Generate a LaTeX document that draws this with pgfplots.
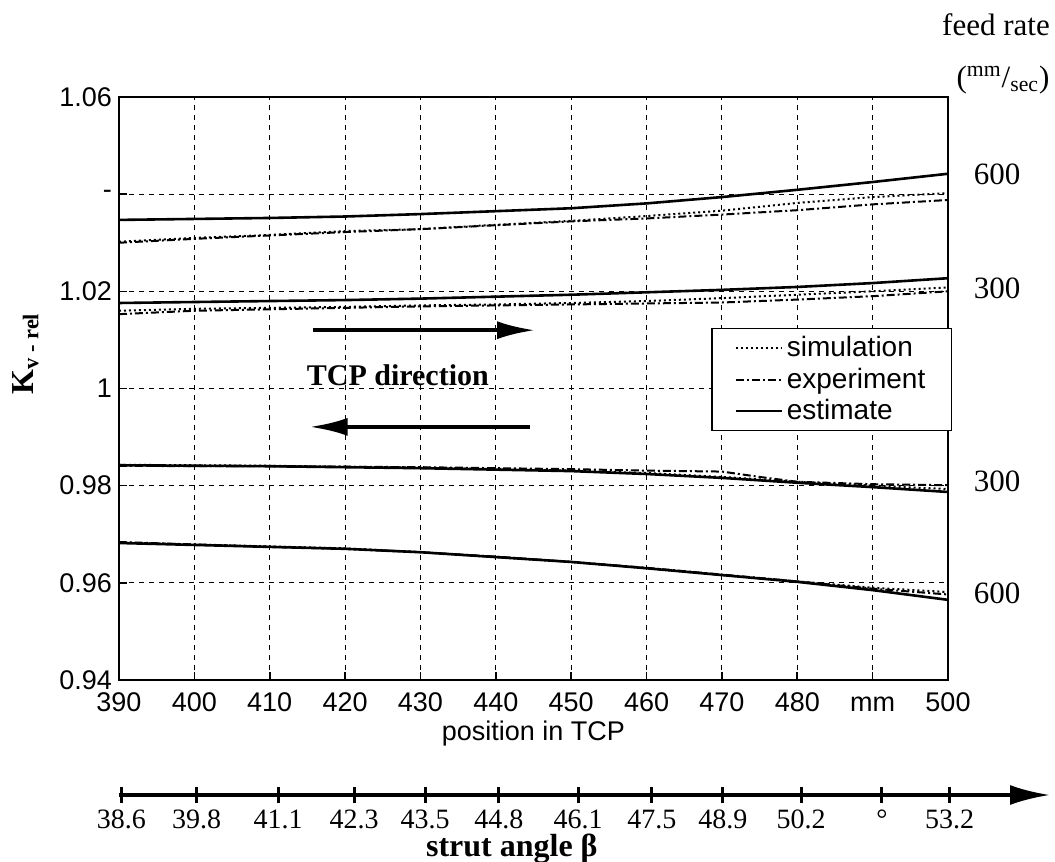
\documentclass[border=0pt]{standalone}
\usepackage{fontspec}
\setmainfont{Liberation Serif}
\setsansfont{Liberation Sans}
\usepackage{pgfplots}
\pgfplotsset{compat=1.18}
\usetikzlibrary{arrows.meta}

\pgfplotsset{
  sim/.style={black, line width=1pt, dash pattern=on 1pt off 1.5pt},
  expt/.style={black, line width=1pt, dash pattern=on 4pt off 1.5pt on 1pt off 1.5pt},
  est/.style={black, line width=1.3pt, solid},
}

\begin{document}
\begin{tikzpicture}
\begin{axis}[
  name=main,
  at={(0,0)}, anchor=south west,
  scale only axis, width=414.5pt, height=291.5pt,
  xmin=390, xmax=500, ymin=0.94, ymax=1.06,
  xtick={390,400,410,420,430,440,450,460,470,480,490,500},
  xticklabels={390,400,410,420,430,440,450,460,470,480,mm,500},
  ytick={0.94,0.96,0.98,1,1.02,1.04,1.06},
  yticklabels={0.94,0.96,0.98,1,1.02,{-\hspace{12pt}},1.06},
  tick label style={font=\sffamily\fontsize{13.5}{14}\selectfont},
  xticklabel style={text height=9.8pt, text depth=0pt, yshift=-2.5pt},
  tick pos=left, tick align=inside, major tick length=4pt,
  tick style={black, line width=0.8pt},
  grid=major,
  major grid style={black, line width=0.5pt, dash pattern=on 2.5pt off 2.5pt},
  axis line style={line width=1pt},
  xlabel={position in TCP},
  xlabel style={font=\sffamily\fontsize{13.5}{14}\selectfont, yshift=2pt},
  ylabel={\textbf{K\textsubscript{v - rel}}},
  ylabel style={font=\fontsize{16}{18}\selectfont, at={(axis description cs:-0.113,0.56)}, anchor=center},
  clip=false,
  legend style={at={(1.005,0.604)}, anchor=north east, draw=black, line width=0.8pt,
    font=\sffamily\fontsize{14}{17}\selectfont, cells={anchor=west},
    inner xsep=11pt, inner ysep=2pt, row sep=0pt},
  legend image code/.code={\draw[#1] (0pt,0pt) -- (23pt,0pt);},
]
% ---- upper, 600 mm/s
\addplot[sim] coordinates {(390,1.0302)(400,1.0310)(410,1.0316)(420,1.0324)(430,1.0328)(440,1.0337)(450,1.0345)(460,1.0355)(470,1.0366)(480,1.0382)(490,1.0394)(500,1.0402)};
\addlegendentry{simulation}
\addplot[expt] coordinates {(390,1.0300)(400,1.0308)(410,1.0315)(420,1.0322)(430,1.0328)(440,1.0336)(450,1.0344)(460,1.0350)(470,1.0358)(480,1.0367)(490,1.0379)(500,1.0388)};
\addlegendentry{experiment}
\addplot[est] coordinates {(390,1.0347)(400,1.0349)(410,1.0351)(420,1.0354)(430,1.0359)(440,1.0365)(450,1.0371)(460,1.0381)(470,1.0394)(480,1.0409)(490,1.0425)(500,1.0442)};
\addlegendentry{estimate}
% ---- upper, 300 mm/s
\addplot[sim, forget plot] coordinates {(390,1.0160)(400,1.0164)(410,1.0166)(420,1.0168)(430,1.0171)(440,1.0173)(450,1.0176)(460,1.0180)(470,1.0186)(480,1.0193)(490,1.0200)(500,1.0208)};
\addplot[expt, forget plot] coordinates {(390,1.0153)(400,1.0160)(410,1.0163)(420,1.0166)(430,1.0169)(440,1.0171)(450,1.0173)(460,1.0175)(470,1.0177)(480,1.0183)(490,1.0190)(500,1.0200)};
\addplot[est, forget plot] coordinates {(390,1.0176)(400,1.0178)(410,1.0180)(420,1.0182)(430,1.0185)(440,1.0189)(450,1.0193)(460,1.0198)(470,1.0203)(480,1.0209)(490,1.0217)(500,1.0227)};
% ---- lower, 300 mm/s
\addplot[sim, forget plot] coordinates {(390,0.9843)(400,0.9842)(410,0.9841)(420,0.9839)(430,0.9837)(440,0.9834)(450,0.9831)(460,0.9826)(470,0.9818)(480,0.9808)(490,0.9800)(500,0.9793)};
\addplot[expt, forget plot] coordinates {(390,0.9841)(400,0.9840)(410,0.9840)(420,0.9839)(430,0.9838)(440,0.9836)(450,0.9834)(460,0.9831)(470,0.9829)(475,0.9818)(480,0.9808)(490,0.9803)(500,0.9801)};
\addplot[est, forget plot] coordinates {(390,0.9842)(400,0.9841)(410,0.9840)(420,0.9838)(430,0.9836)(440,0.9833)(450,0.9830)(460,0.9824)(470,0.9816)(480,0.9806)(490,0.9797)(500,0.9787)};
% ---- lower, 600 mm/s
\addplot[sim, forget plot] coordinates {(390,0.9683)(400,0.9679)(410,0.9675)(420,0.9671)(430,0.9663)(440,0.9653)(450,0.9643)(460,0.9630)(470,0.9616)(480,0.9603)(490,0.9590)(500,0.9581)};
\addplot[expt, forget plot] coordinates {(390,0.9684)(400,0.9679)(410,0.9674)(420,0.9670)(430,0.9663)(440,0.9654)(450,0.9643)(460,0.9631)(470,0.9617)(480,0.9603)(490,0.9588)(500,0.9576)};
\addplot[est, forget plot] coordinates {(390,0.9682)(400,0.9678)(410,0.9674)(420,0.9670)(430,0.9663)(440,0.9653)(450,0.9643)(460,0.9630)(470,0.9616)(480,0.9602)(490,0.9585)(500,0.9565)};
% ---- TCP direction arrows
\addplot[black, line width=2pt, -{Latex[length=19pt,width=9pt]}, forget plot] coordinates {(415.7,1.012) (445.2,1.012)};
\addplot[black, line width=2pt, -{Latex[length=19pt,width=9pt]}, forget plot] coordinates {(444.5,0.9921) (415.3,0.9921)};
\node[font=\bfseries\fontsize{15}{18}\selectfont] at (axis cs:427,1.0028) {TCP direction};
% ---- feed rate labels
\node[font=\fontsize{15.5}{18}\selectfont, xshift=24.5pt] at (axis cs:500,1.044) {600};
\node[font=\fontsize{15.5}{18}\selectfont, xshift=24.5pt] at (axis cs:500,1.0207) {300};
\node[font=\fontsize{15.5}{18}\selectfont, xshift=24.5pt] at (axis cs:500,0.9808) {300};
\node[font=\fontsize{15.5}{18}\selectfont, xshift=24.5pt] at (axis cs:500,0.9579) {600};
\node[font=\fontsize{15.5}{18}\selectfont, xshift=24pt, yshift=36pt] at (rel axis cs:1,1) {feed rate};
\node[font=\fontsize{15.5}{18}\selectfont, xshift=27.5pt, yshift=8.5pt] at (rel axis cs:1,1) {(\textsuperscript{mm}/\textsubscript{sec})};
\end{axis}

% ---- strut angle axis
\begin{axis}[
  at={(0,-57.5pt)}, anchor=south west,
  scale only axis, width=465.5pt, height=10pt,
  xmin=390, xmax=513.5, ymin=0, ymax=1,
  hide y axis, axis x line*=bottom,
  x axis line style={black, line width=1.8pt, -{Latex[length=20pt,width=10pt]}},
  xtick={390.3,400.3,411.1,421.2,430.6,440.4,450.9,460.7,470.1,480.5,491.2,500.2},
  xticklabels={38.6,39.8,41.1,42.3,43.5,44.8,46.1,47.5,48.9,50.2,°,53.2},
  tick align=center, major tick length=8pt,
  xtick style={black, line width=1.5pt},
  tick label style={font=\fontsize{14}{16}\selectfont},
  xlabel={\textbf{strut angle β}},
  xlabel style={font=\fontsize{16}{18}\selectfont, at={(axis description cs:0.422,0)}, anchor=center, yshift=-27pt},
  clip=false,
]
\addplot[draw=none, forget plot] coordinates {(390,0) (500,0)};
\end{axis}

\pgfresetboundingbox
\path[use as bounding box] (-59.5pt,-91pt) rectangle (468pt,340pt);
\end{tikzpicture}
\end{document}
